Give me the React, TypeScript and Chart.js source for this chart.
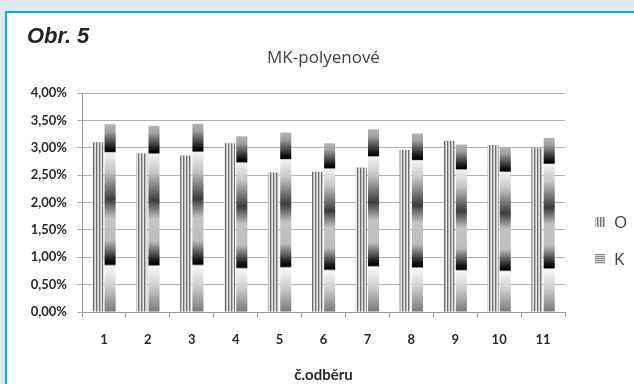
import React, { useEffect, useRef } from 'react';
import { Chart, registerables } from 'chart.js';

Chart.register(...registerables);

// ---- data ----
const categories = ['1', '2', '3', '4', '5', '6', '7', '8', '9', '10', '11'];
const seriesNames = ['O', 'K'];
const seriesO = [3.10, 2.90, 2.86, 3.08, 2.55, 2.56, 2.64, 2.96, 3.13, 3.05, 2.99];
const seriesK = [3.43, 3.40, 3.44, 3.21, 3.28, 3.08, 3.34, 3.26, 3.06, 3.01, 3.18];
const yTickLabels = ['0,00%', '0,50%', '1,00%', '1,50%', '2,00%', '2,50%', '3,00%', '3,50%', '4,00%'];
const chartTitle = 'MK-polyenové';
const xAxisTitle = 'č.odběru';
const figureLabel = 'Obr. 5';

// gradient stops for the K fill (fraction from bar top to base)
const kStops: [number, string][] = [
  [0.0, '#b4b4b4'],
  [0.04, '#a0a0a0'],
  [0.125, '#151515'],
  [0.145, '#000000'],
  [0.152, '#f2f2f2'],
  [0.25, '#c6c6c6'],
  [0.4, '#3c3c3c'],
  [0.5, '#c4c4c4'],
  [0.62, '#bdbdbd'],
  [0.72, '#1a1a1a'],
  [0.745, '#000000'],
  [0.755, '#f8f8f8'],
  [0.86, '#cfcfcf'],
  [1.0, '#777777'],
];

function makeStripePattern(ctx: CanvasRenderingContext2D, colors: string[], vertical: boolean) {
  const c = document.createElement('canvas');
  const n = colors.length;
  c.width = vertical ? n : 1;
  c.height = vertical ? 1 : n;
  const g = c.getContext('2d')!;
  colors.forEach((col, i) => {
    g.fillStyle = col;
    if (vertical) g.fillRect(i, 0, 1, 1);
    else g.fillRect(0, i, 1, 1);
  });
  return ctx.createPattern(c, 'repeat')!;
}

export default function App() {
  const ref = useRef<HTMLCanvasElement | null>(null);

  useEffect(() => {
    document.body.style.margin = '0';
    const canvas = ref.current!;
    const ctx = canvas.getContext('2d')!;
    const oPattern = makeStripePattern(ctx, ['#6e6e6e', '#bcbcbc', '#e8e8e8'], true);
    const kIcon = makeStripePattern(ctx, ['#8a8a8a', '#dcdcdc'], false);

    const kFill = (c: any) => {
      const chart = c.chart;
      const y = chart.scales && chart.scales.y;
      if (c.type !== 'data' || !y) return '#999999';
      const top = y.getPixelForValue(c.raw);
      const base = y.getPixelForValue(0);
      if (!isFinite(top) || !isFinite(base) || base - top < 1) return '#999999';
      const g = chart.ctx.createLinearGradient(0, top, 0, base);
      kStops.forEach(([o, col]) => g.addColorStop(o, col));
      return g;
    };

    const extras = {
      id: 'extras',
      afterDraw(chart: any) {
        const c = chart.ctx as CanvasRenderingContext2D;
        c.save();
        // figure label
        c.fillStyle = '#222222';
        c.font = 'italic bold 22px "Liberation Sans"';
        c.textBaseline = 'alphabetic';
        c.textAlign = 'left';
        c.fillText(figureLabel, 27, 43);
        // legend
        const lx = chart.chartArea.right + 30;
        const rows = [222, 259];
        c.font = '17px "Open Sans"';
        c.textBaseline = 'middle';
        rows.forEach((ry, i) => {
          c.fillStyle = i === 0 ? oPattern : kIcon;
          c.fillRect(lx, ry - 5, 10, 10);
          c.fillStyle = '#404040';
          c.fillText(seriesNames[i], lx + 19, ry + 1);
        });
        c.restore();
      },
    };

    const chart = new Chart(canvas, {
      type: 'bar',
      data: {
        labels: categories,
        datasets: [
          {
            label: seriesNames[0],
            data: seriesO,
            backgroundColor: oPattern as any,
            borderWidth: 0,
            categoryPercentage: 0.56,
            barPercentage: 0.9,
          },
          {
            label: seriesNames[1],
            data: seriesK,
            backgroundColor: kFill as any,
            borderWidth: 0,
            categoryPercentage: 0.56,
            barPercentage: 0.9,
          },
        ],
      },
      options: {
        responsive: false,
        animation: false,
        devicePixelRatio: 1,
        layout: { padding: { left: 8, right: 69, top: 0, bottom: 0 } },
        plugins: {
          legend: { display: false },
          tooltip: { enabled: false },
          title: {
            display: true,
            text: chartTitle,
            fullSize: false,
            color: '#404040',
            font: { family: '"Open Sans"', size: 17, weight: 'normal' },
            padding: { top: 48, bottom: 24.6 },
          },
        },
        scales: {
          x: {
            offset: true,
            grid: {
              display: true,
              offset: true,
              drawOnChartArea: false,
              drawTicks: true,
              tickLength: 5,
              color: '#9a9a9a',
            },
            border: { display: true, color: '#9a9a9a', width: 1 },
            ticks: {
              color: '#2a2a2a',
              font: { family: 'Lato', size: 13, weight: 'bold' },
              padding: 15,
              maxRotation: 0,
            },
            title: {
              display: true,
              text: xAxisTitle,
              color: '#2a2a2a',
              font: { family: 'Lato', size: 15, weight: 'bold' },
              padding: { top: 3.4, bottom: 0 },
            },
          },
          y: {
            min: 0,
            max: 4,
            afterFit: (scale: any) => {
              scale.width = 74;
            },
            grid: {
              color: '#b0b0b0',
              lineWidth: 1,
              drawTicks: true,
              tickLength: 5,
            },
            border: { display: true, color: '#9a9a9a', width: 1 },
            ticks: {
              stepSize: 0.5,
              color: '#2a2a2a',
              font: { family: 'Lato', size: 13, weight: 'bold' },
              padding: 10,
              callback: (_v: any, i: number) => yTickLabels[i],
            },
          },
        },
      },
      plugins: [extras],
    });
    return () => chart.destroy();
  }, []);

  return (
    <div style={{ position: 'relative', width: 634, height: 384, overflow: 'hidden', background: '#dfe9ef' }}>
      <div
        style={{
          position: 'absolute',
          left: 5,
          top: 11,
          width: 1000,
          height: 1000,
          borderLeft: '2px solid #00b0f0',
          borderTop: '2px solid #00b0f0',
          background: '#ffffff',
        }}
      />
      <canvas ref={ref} width={634} height={384} style={{ position: 'absolute', left: 0, top: 0 }} />
    </div>
  );
}
